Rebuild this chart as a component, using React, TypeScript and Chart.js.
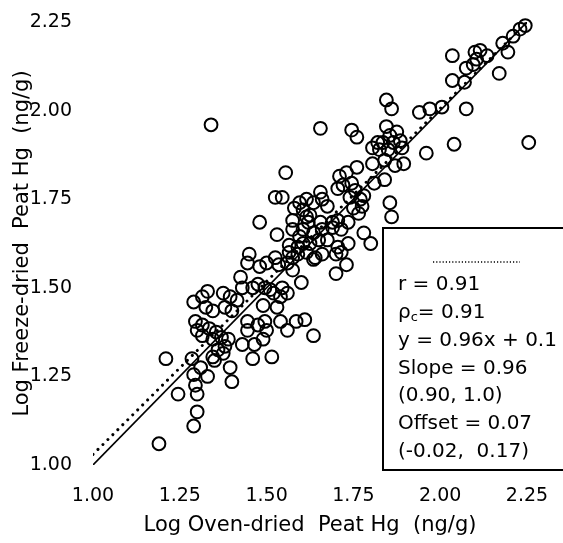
import { useEffect, useRef } from "react";
import { Chart, registerables } from "chart.js";

Chart.register(...registerables);

// Log oven-dried peat Hg (ng/g) — x values
const ovenDried = [
  1.19, 1.21, 1.245, 1.29, 1.3, 1.3, 1.295, 1.29, 1.31, 1.285,
  1.33, 1.4, 1.35, 1.345, 1.36, 1.375, 1.395, 1.295, 1.315, 1.3,
  1.335, 1.315, 1.355, 1.345, 1.37, 1.39, 1.38, 1.43, 1.465, 1.49,
  1.46, 1.515, 1.29, 1.33, 1.315, 1.375, 1.395, 1.415, 1.325, 1.345,
  1.38, 1.4, 1.425, 1.43, 1.46, 1.475, 1.495, 1.51, 1.52, 1.54,
  1.56, 1.545, 1.49, 1.53, 1.445, 1.445, 1.475, 1.495, 1.5, 1.54,
  1.56, 1.585, 1.61, 1.635, 1.6, 1.7, 1.45, 1.445, 1.48, 1.5,
  1.525, 1.535, 1.56, 1.575, 1.575, 1.48, 1.53, 1.555, 1.525, 1.545,
  1.34, 1.655, 1.745, 1.76, 1.655, 1.66, 1.675, 1.595, 1.58, 1.635,
  1.575, 1.615, 1.62, 1.655, 1.575, 1.605, 1.595, 1.635, 1.66, 1.705,
  1.69, 1.715, 1.565, 1.59, 1.605, 1.625, 1.65, 1.675, 1.565, 1.59,
  1.615, 1.64, 1.66, 1.635, 1.71, 1.72, 1.73, 1.705, 1.7, 1.715,
  1.73, 1.845, 1.875, 1.855, 1.82, 1.835, 1.865, 1.89, 1.805, 1.825,
  1.85, 1.885, 1.805, 1.84, 1.87, 1.895, 1.76, 1.81, 1.84, 1.855,
  1.86, 1.745, 1.705, 1.755, 1.74, 1.77, 1.78, 1.75, 1.775, 1.765,
  1.615, 1.605, 1.625, 1.69, 1.735, 1.78, 1.735, 1.8, 1.845, 1.86,
  1.94, 1.97, 2.005, 2.075, 1.96, 2.04, 2.255, 2.035, 2.035, 2.07,
  2.075, 2.095, 2.1, 2.115, 2.135, 2.105, 2.17, 2.18, 2.195, 2.23,
  2.245, 2.21,
];

// Log freeze-dried peat Hg (ng/g) — y values
const freezeDried = [
  1.06, 1.3, 1.2, 1.11, 1.15, 1.2, 1.225, 1.255, 1.275, 1.3,
  1.25, 1.235, 1.295, 1.305, 1.325, 1.315, 1.275, 1.405, 1.395, 1.38,
  1.385, 1.365, 1.375, 1.355, 1.36, 1.355, 1.335, 1.34, 1.34, 1.355,
  1.3, 1.305, 1.46, 1.49, 1.475, 1.485, 1.475, 1.465, 1.445, 1.435,
  1.445, 1.435, 1.53, 1.5, 1.5, 1.51, 1.5, 1.495, 1.485, 1.475,
  1.485, 1.5, 1.45, 1.445, 1.405, 1.38, 1.395, 1.405, 1.38, 1.405,
  1.38, 1.405, 1.41, 1.365, 1.515, 1.54, 1.595, 1.57, 1.56, 1.57,
  1.585, 1.565, 1.57, 1.585, 1.55, 1.685, 1.65, 1.825, 1.755, 1.755,
  1.96, 1.95, 1.945, 1.925, 1.77, 1.75, 1.73, 1.74, 1.725, 1.74,
  1.69, 1.7, 1.685, 1.685, 1.665, 1.665, 1.645, 1.655, 1.665, 1.69,
  1.67, 1.665, 1.62, 1.615, 1.625, 1.625, 1.635, 1.635, 1.6, 1.595,
  1.6, 1.585, 1.595, 1.58, 1.815, 1.79, 1.825, 1.615, 1.595, 1.6,
  1.565, 1.955, 1.94, 1.93, 1.91, 1.91, 1.91, 1.895, 1.895, 1.89,
  1.89, 1.915, 1.85, 1.86, 1.845, 1.85, 1.84, 1.795, 1.805, 1.74,
  1.7, 1.795, 1.78, 1.775, 1.755, 1.75, 1.76, 1.725, 1.73, 1.71,
  1.75, 1.72, 1.705, 1.685, 1.685, 1.655, 1.625, 1.625, 2.03, 2.005,
  1.995, 2.005, 2.01, 2.005, 1.88, 1.905, 1.91, 2.155, 2.085, 2.08,
  2.12, 2.13, 2.165, 2.17, 2.155, 2.145, 2.105, 2.19, 2.165, 2.23,
  2.24, 2.21,
];

// Reference lines
const lineX = [1.0, 2.25];
const oneToOneY = [1.0, 2.25];
const regressionY = [1.03, 2.25];

const xTicks = [1.0, 1.25, 1.5, 1.75, 2.0, 2.25];
const yTicks = [1.0, 1.25, 1.5, 1.75, 2.0, 2.25];

const xTitle = "Log Oven-dried  Peat Hg  (ng/g)";
const yTitle = "Log Freeze-dried  Peat Hg  (ng/g)";

const statsLines = [
  "r = 0.91",
  "ρ|c|= 0.91",
  "y = 0.96x + 0.1",
  "Slope = 0.96",
  "(0.90, 1.0)",
  "Offset = 0.07",
  "(-0.02,  0.17)",
];

const FONT = "'DejaVu Sans', 'Liberation Sans', Arial, sans-serif";

const statsBox = {
  id: "statsBox",
  afterDraw(chart: any) {
    const ctx = chart.ctx as CanvasRenderingContext2D;
    ctx.save();
    const bx = 383, by = 228, bw = 190, bh = 242;
    ctx.fillStyle = "#fff";
    ctx.fillRect(bx, by, bw, bh);
    ctx.strokeStyle = "#000";
    ctx.lineWidth = 2;
    ctx.strokeRect(bx, by, bw, bh);
    // dotted sample
    ctx.beginPath();
    ctx.setLineDash([1.2, 2]);
    ctx.lineWidth = 1.4;
    ctx.moveTo(433, 262);
    ctx.lineTo(520, 262);
    ctx.stroke();
    ctx.setLineDash([]);
    ctx.fillStyle = "#000";
    ctx.textBaseline = "middle";
    ctx.textAlign = "left";
    const x0 = 398;
    let y = 285;
    for (const line of statsLines) {
      ctx.font = `20px ${FONT}`;
      if (line.includes("|")) {
        const [a, sub, b] = line.split("|");
        ctx.fillText(a, x0, y);
        let x = x0 + ctx.measureText(a).width;
        ctx.font = `13px ${FONT}`;
        ctx.fillText(sub, x, y + 5);
        x += ctx.measureText(sub).width;
        ctx.font = `20px ${FONT}`;
        ctx.fillText(b, x, y);
      } else {
        ctx.fillText(line, x0, y);
      }
      y += 27.8;
    }
    ctx.restore();
  },
};

export default function App() {
  const ref = useRef<HTMLCanvasElement>(null);
  useEffect(() => {
    document.body.style.margin = "0";
    const points = ovenDried.map((x, i) => ({ x, y: freezeDried[i] }));
    const oneToOne = lineX.map((x, i) => ({ x, y: oneToOneY[i] }));
    const regression = lineX.map((x, i) => ({ x, y: regressionY[i] }));
    const chart = new Chart(ref.current!, {
      type: "scatter",
      data: {
        datasets: [
          {
            data: points,
            pointRadius: 6.4,
            pointBorderWidth: 2,
            borderColor: "#000",
            backgroundColor: "rgba(0,0,0,0)",
            pointStyle: "circle",
            clip: false,
          } as any,
          {
            data: oneToOne,
            showLine: true,
            pointRadius: 0,
            borderColor: "#000",
            borderWidth: 1.6,
          } as any,
          {
            data: regression,
            showLine: true,
            pointRadius: 0,
            borderColor: "#000",
            borderWidth: 3,
            borderDash: [0.01, 7],
            borderCapStyle: "round",
          } as any,
        ],
      },
      options: {
        animation: false,
        responsive: false,
        events: [],
        layout: { padding: { left: 0, right: 36, top: 22, bottom: 0 } },
        plugins: { legend: { display: false }, tooltip: { enabled: false } },
        scales: {
          x: {
            type: "linear",
            min: 1.0,
            max: 2.25,
            afterBuildTicks: (s: any) => {
              s.ticks = xTicks.map((v) => ({ value: v }));
            },
            afterFit: (s: any) => {
              s.height = 78;
            },
            grid: { display: false, drawTicks: true, tickLength: 20 },
            border: { display: false },
            ticks: {
              padding: 0,
              color: "#000",
              font: { family: FONT, size: 19 },
              maxRotation: 0,
              callback: (v: any) => Number(v).toFixed(2),
            },
            title: {
              display: true,
              text: xTitle,
              color: "#000",
              font: { family: FONT, size: 21 },
              padding: { top: 6, bottom: 5 },
            },
          },
          y: {
            type: "linear",
            min: 1.0,
            max: 2.25,
            afterBuildTicks: (s: any) => {
              s.ticks = yTicks.map((v) => ({ value: v }));
            },
            afterFit: (s: any) => {
              s.width = 93;
            },
            grid: { display: false, drawTicks: true, tickLength: 21 },
            border: { display: false },
            ticks: {
              padding: 0,
              color: "#000",
              font: { family: FONT, size: 19 },
              callback: (v: any) => Number(v).toFixed(2),
            },
            title: {
              display: true,
              text: yTitle,
              color: "#000",
              font: { family: FONT, size: 21 },
              padding: { top: 10, bottom: 10 },
            },
          },
        },
      },
      plugins: [statsBox],
    });
    return () => chart.destroy();
  }, []);
  return (
    <canvas ref={ref} width={563} height={543} style={{ display: "block" }} />
  );
}
